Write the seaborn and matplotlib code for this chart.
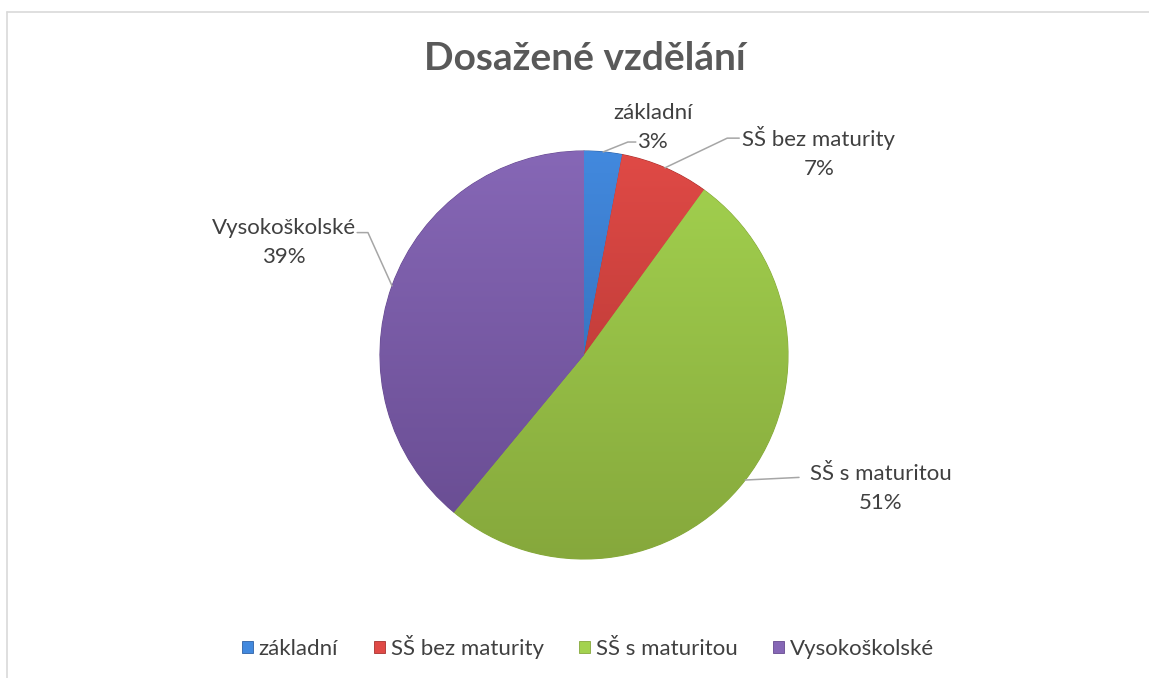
import matplotlib
matplotlib.use("Agg")
import matplotlib.pyplot as plt
import matplotlib.lines as mlines
import matplotlib.colors as mcolors
from matplotlib.patches import Patch
import numpy as np
import seaborn as sns

categories = ["základní", "SŠ bez maturity", "SŠ s maturitou", "Vysokoškolské"]
values = [3, 7, 51, 39]
colors_top = ["#4289de", "#e04a46", "#a3d24f", "#8667b6"]
colors_bottom = ["#2f62a6", "#a8322f", "#86a83c", "#674b90"]

sns.set_theme(style="white")
plt.rcParams['font.family'] = ['Lato', 'DejaVu Sans']

W, H = 1149, 678
fig = plt.figure(figsize=(W / 100, H / 100), dpi=100)
fig.patch.set_facecolor("white")

# chart frame
fig.add_artist(mlines.Line2D([7 / W, 1], [1 - 12 / H, 1 - 12 / H], color="#d9d9d9", lw=1.2, transform=fig.transFigure))
fig.add_artist(mlines.Line2D([7 / W, 7 / W], [0, 1 - 12 / H], color="#d9d9d9", lw=1.2, transform=fig.transFigure))

cx, cy, r = 584, 355, 204
ax = fig.add_axes([(cx - r) / W, (H - cy - r) / H, 2 * r / W, 2 * r / H])
wedges, _ = ax.pie(values, colors=colors_top, startangle=90, counterclock=False,
                   wedgeprops=dict(linewidth=0.8))
for w, ct, cb in zip(wedges, colors_top, colors_bottom):
    t = np.array(mcolors.to_rgb(ct))
    b = np.array(mcolors.to_rgb(cb))
    f = np.linspace(0, 1, 256)[:, None]
    grad = (b * (1 - f) + t * f)[:, None, :]
    im = ax.imshow(grad, extent=(-1, 1, -1, 1), origin="lower", aspect="auto", zorder=w.get_zorder() + 0.1)
    im.set_clip_path(w)
    w.set_edgecolor(cb)
ax.set_xlim(-1, 1)
ax.set_ylim(-1, 1)
ax.set_aspect("equal")
ax.axis("off")

total = sum(values)
label_pos = [(0.337, 1.115), (1.151, 0.993), (1.454, -0.654), (-1.473, 0.551)]
elbows = [[(0.215, 1.044), (0.254, 1.044)],
          [(0.702, 1.063), (0.761, 1.063)],
          [(1.054, -0.60)],
          [(-1.059, 0.60), (-1.112, 0.60)]]
cum = 0
for i, (cat, v) in enumerate(zip(categories, values)):
    mid = 90 - (cum + v / 2) / total * 360
    cum += v
    ex, ey = np.cos(np.radians(mid)), np.sin(np.radians(mid))
    pts = [(ex, ey)] + elbows[i]
    xs, ys = zip(*pts)
    ax.plot(xs, ys, color="#a6a6a6", lw=1.1, clip_on=False)
    ax.text(label_pos[i][0], label_pos[i][1], f"{cat}\n{round(v / total * 100)}%",
            ha="center", va="center", fontsize=16, color="#404040",
            linespacing=1.6, clip_on=False)

fig.text(585 / W, 1 - 59 / H, "Dosažené vzdělání", ha="center", va="center",
         fontsize=28, fontweight="bold", color="#595959")

handles = [Patch(facecolor=c, edgecolor=cb, linewidth=0.6) for c, cb in zip(colors_top, colors_bottom)]
leg = fig.legend(handles, categories, loc="center", bbox_to_anchor=(588 / W, 1 - 647 / H),
                 ncol=4, frameon=False, fontsize=16, handlelength=0.5, handleheight=0.5,
                 handletextpad=0.25, columnspacing=1.6, labelcolor="#404040")

fig.savefig("out.png", dpi=100, facecolor="white")
